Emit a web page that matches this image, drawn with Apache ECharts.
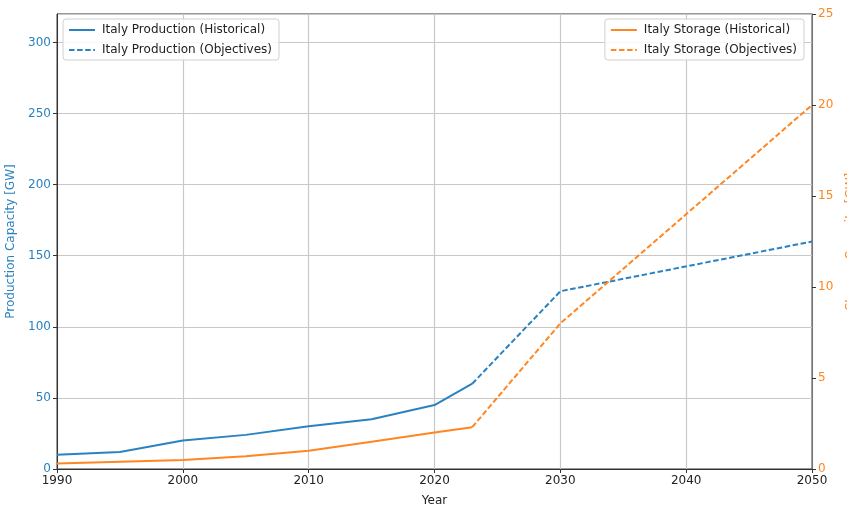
<!DOCTYPE html>
<html>
<head>
<meta charset="utf-8">
<script src="https://cdn.jsdelivr.net/npm/echarts@6/dist/echarts.min.js"></script>
<style>
  html, body { margin: 0; padding: 0; background: #fff; }
  #chart { width: 847px; height: 505px; }
</style>
</head>
<body>
<div id="chart"></div>
<script>
// Italy installed capacity: production and storage, history and targets
const years = [1990, 1995, 2000, 2005, 2010, 2015, 2020, 2023];
const productionHist = [10, 12, 20, 24, 30, 35, 45, 60];
const storageHist = [0.3, 0.4, 0.5, 0.7, 1.0, 1.5, 2.0, 2.3];

const targetYears = [2023, 2030, 2050];
const productionTarget = [60, 125, 160];
const storageTarget = [2.3, 8, 20];

const BLUE = '#2a82c0';
const ORANGE = '#ff8620';
const FONT = 'DejaVu Sans';

const pairs = (xs, ys) => xs.map((x, i) => [x, ys[i]]);

const chart = echarts.init(document.getElementById('chart'));

function lineSeries(name, data, color, dashed, yAxisIndex) {
  return {
    name, type: 'line', data, yAxisIndex,
    symbol: 'none', smooth: false,
    lineStyle: { color, width: 2, type: dashed ? [5.5, 2.6] : 'solid' },
    itemStyle: { color },
    emphasis: { disabled: true },
    z: 3
  };
}

const legendCommon = {
  orient: 'vertical',
  borderColor: '#d0d0d0', borderWidth: 1, borderRadius: 3,
  backgroundColor: 'rgba(255,255,255,0.85)',
  padding: [5, 7, 4, 5],
  itemWidth: 26, itemHeight: 10, itemGap: 8,
  itemStyle: { opacity: 0 },
  textStyle: { fontFamily: FONT, fontSize: 12, color: '#222', padding: [0, 0, 0, 2] }
};

chart.setOption({
  animation: false,
  backgroundColor: '#fff',
  grid: {
    left: 57, right: 35, top: 14, bottom: 36,
    outerBoundsMode: 'none', containLabel: false,
    show: true, borderColor: '#333', borderWidth: 1, backgroundColor: 'transparent'
  },
  legend: [
    Object.assign({}, legendCommon, {
      left: 63, top: 19,
      data: ['Italy Production (Historical)', 'Italy Production (Objectives)']
    }),
    Object.assign({}, legendCommon, {
      right: 43, top: 19,
      data: ['Italy Storage (Historical)', 'Italy Storage (Objectives)']
    })
  ],
  xAxis: {
    type: 'value', min: 1990, max: 2050, interval: 10,
    name: 'Year', nameLocation: 'middle', nameGap: 26,
    nameTextStyle: { fontFamily: FONT, fontSize: 12, color: '#222' },
    axisLine: { show: true, lineStyle: { color: '#333' } },
    axisTick: { show: true, inside: false, length: 4, lineStyle: { color: '#333' } },
    axisLabel: {
      fontFamily: FONT, fontSize: 12, color: '#222', margin: 6,
      formatter: v => String(v)
    },
    splitLine: { show: true, lineStyle: { color: '#c8c8c8', width: 1.2 } }
  },
  yAxis: [
    {
      type: 'value', min: 0, max: 320, interval: 50, position: 'left',
      name: 'Production Capacity [GW]', nameLocation: 'middle', nameGap: 38,
      nameTextStyle: { fontFamily: FONT, fontSize: 12, color: BLUE },
      axisLine: { show: true, lineStyle: { color: '#333' } },
      axisTick: { show: true, length: 4, lineStyle: { color: '#333' } },
      axisLabel: {
        fontFamily: FONT, fontSize: 12, color: BLUE, margin: 6,
        showMaxLabel: false
      },
      splitLine: { show: true, lineStyle: { color: '#c8c8c8', width: 1.2 } }
    },
    {
      type: 'value', min: 0, max: 25, interval: 5, position: 'right',
      name: 'Storage Capacity [GW]', nameLocation: 'middle', nameGap: 33,
      nameTextStyle: { fontFamily: FONT, fontSize: 12, color: ORANGE },
      axisLine: { show: true, lineStyle: { color: '#777' } },
      axisTick: { show: true, length: 4, lineStyle: { color: '#333' } },
      axisLabel: { fontFamily: FONT, fontSize: 12, color: ORANGE, margin: 6 },
      splitLine: { show: false }
    }
  ],
  series: [
    lineSeries('Italy Production (Historical)', pairs(years, productionHist), BLUE, false, 0),
    lineSeries('Italy Production (Objectives)', pairs(targetYears, productionTarget), BLUE, true, 0),
    lineSeries('Italy Storage (Historical)', pairs(years, storageHist), ORANGE, false, 1),
    lineSeries('Italy Storage (Objectives)', pairs(targetYears, storageTarget), ORANGE, true, 1)
  ]
});
</script>
</body>
</html>
